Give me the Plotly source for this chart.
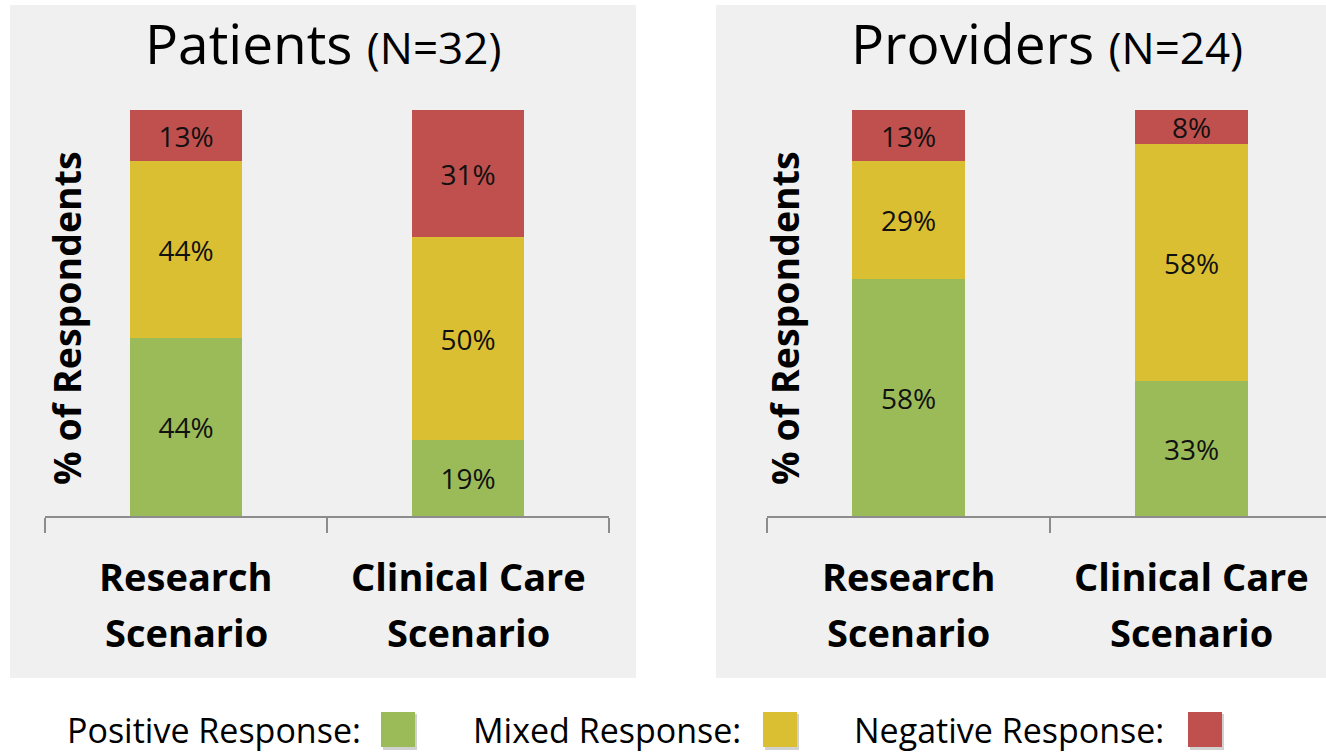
import plotly.graph_objects as go

W, H = 1326, 754

categories = ["Research Scenario", "Clinical Care Scenario"]
series_names = ["Positive Response", "Mixed Response", "Negative Response"]
colors = ["#9BBB59", "#DBBF33", "#C0504D"]

# Patients (N=32) - percent of respondents
patients_positive = [43.75, 18.75]
patients_mixed = [43.75, 50.0]
patients_negative = [12.5, 31.25]

# Providers (N=24) - percent of respondents
providers_positive = [58.33, 33.33]
providers_mixed = [29.17, 58.33]
providers_negative = [12.5, 8.33]

panel_titles = ["Patients", "Providers"]
panel_ns = ["(N=32)", "(N=24)"]

FONT = "Open Sans"


def px_x(p):
    return p / W


def px_y(p):
    return 1 - p / H


def lab(v):
    return f"{int(v + 0.5)}%"


fig = go.Figure()

panels = [
    ("x", "y", [patients_positive, patients_mixed, patients_negative]),
    ("x2", "y2", [providers_positive, providers_mixed, providers_negative]),
]
for xa, ya, series in panels:
    for name, col, vals in zip(series_names, colors, series):
        fig.add_trace(go.Bar(
            x=categories, y=vals, name=name, xaxis=xa, yaxis=ya,
            marker=dict(color=col, line=dict(width=0)),
            width=0.4,
            text=[lab(v) for v in vals],
            textposition="inside", insidetextanchor="middle",
            constraintext="none",
            textfont=dict(family=FONT, size=28, color="#111111"),
            showlegend=False, hoverinfo="skip",
        ))

axis_common = dict(
    type="category", showline=True, linecolor="#8c8c8c", linewidth=1.5,
    ticks="outside", ticklen=15, tickcolor="#8c8c8c", tickwidth=1.5,
    tickson="boundaries", showticklabels=False, showgrid=False,
    zeroline=False, fixedrange=True,
)
y_dom = [px_y(516), px_y(110)]
yaxis_common = dict(range=[0, 100], domain=y_dom, visible=False, fixedrange=True)

fig.update_layout(
    width=W, height=H, autosize=False,
    margin=dict(l=0, r=0, t=0, b=0),
    paper_bgcolor="white", plot_bgcolor="rgba(0,0,0,0)",
    barmode="stack", bargap=0,
    xaxis=dict(domain=[px_x(45), px_x(609)], range=[-0.5, 1.5], anchor="y", **axis_common),
    yaxis=dict(anchor="x", **yaxis_common),
    xaxis2=dict(domain=[px_x(767), 1.0], range=[-0.5, 1.475], anchor="y2", **axis_common),
    yaxis2=dict(anchor="x2", **yaxis_common),
    font=dict(family=FONT, color="#000000"),
)

shapes = []
# panel backgrounds
shapes.append(dict(type="rect", xref="paper", yref="paper", layer="below",
                   x0=px_x(10), x1=px_x(636), y0=px_y(678), y1=px_y(5),
                   fillcolor="#F0F0F0", line=dict(width=0)))
shapes.append(dict(type="rect", xref="paper", yref="paper", layer="below",
                   x0=px_x(716), x1=1.0, y0=px_y(678), y1=px_y(5),
                   fillcolor="#F0F0F0", line=dict(width=0)))

annotations = []
# panel titles
for title, n, cx in zip(panel_titles, panel_ns, [323, 1047]):
    annotations.append(dict(
        xref="paper", yref="paper", x=px_x(cx), y=px_y(43),
        xanchor="center", yanchor="middle", showarrow=False,
        text=f"{title} <span style='font-size:44px'>{n}</span>",
        font=dict(family=FONT, size=55, color="#000000"),
    ))

# y-axis titles
for cx in [66, 784]:
    annotations.append(dict(
        xref="paper", yref="paper", x=px_x(cx), y=px_y(318),
        xanchor="center", yanchor="middle", showarrow=False, textangle=-90,
        text="<b>% of Respondents</b>",
        font=dict(family=FONT, size=37.5, color="#000000"),
    ))

# category labels (two lines)
for xa in ["x", "x2"]:
    for cat in categories:
        first, second = cat.rsplit(" ", 1)
        for line, cy in [(first, 576), (second, 632)]:
            annotations.append(dict(
                xref=xa, yref="paper", x=cat, y=px_y(cy),
                xanchor="center", yanchor="middle", showarrow=False,
                text=f"<b>{line}</b>",
                font=dict(family=FONT, size=38, color="#000000"),
            ))

# custom legend
legend_text_right = [362, 742, 1165]
legend_box_left = [381, 763, 1188]
for name, col, tr, bl in zip(series_names, colors, legend_text_right, legend_box_left):
    annotations.append(dict(
        xref="paper", yref="paper", x=px_x(tr), y=0,
        xanchor="right", yanchor="bottom", showarrow=False,
        text=f"{name}:", borderpad=0,
        font=dict(family=FONT, size=34, color="#000000"),
    ))
    shapes.append(dict(type="rect", xref="paper", yref="paper",
                       x0=px_x(bl + 2), x1=px_x(bl + 36), y0=px_y(750), y1=px_y(714),
                       fillcolor="rgba(0,0,0,0.18)", line=dict(width=0)))
    shapes.append(dict(type="rect", xref="paper", yref="paper",
                       x0=px_x(bl), x1=px_x(bl + 34), y0=px_y(747), y1=px_y(712),
                       fillcolor=col, line=dict(width=0)))

fig.update_layout(shapes=shapes, annotations=annotations)

fig.write_html("out.html", config={"displayModeBar": False})
